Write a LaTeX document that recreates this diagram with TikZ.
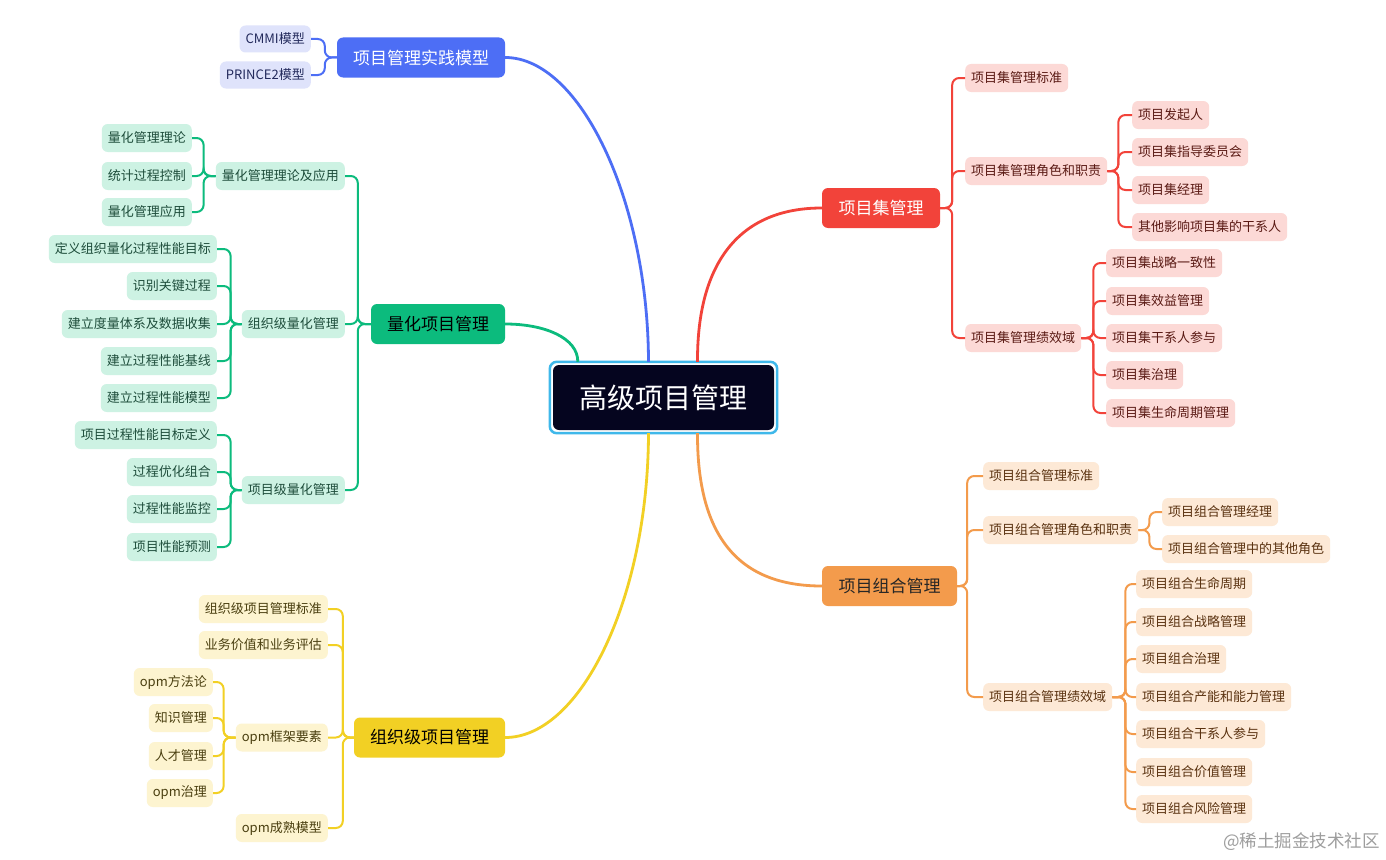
\documentclass[tikz,border=0pt]{standalone}
\usepackage{fontspec}
\setmainfont{Noto Sans CJK SC}
\usetikzlibrary{calc}
\definecolor{cdark}{HTML}{05051F}
\definecolor{csky}{HTML}{3FB8EA}
\definecolor{bmain}{HTML}{4D6EF5}
\definecolor{bfill}{HTML}{DFE3FB}
\definecolor{btext}{HTML}{232A5C}
\definecolor{gmain}{HTML}{0CBB7D}
\definecolor{gfill}{HTML}{CDF2E3}
\definecolor{gtext}{HTML}{1E4D3B}
\definecolor{ymain}{HTML}{F2D024}
\definecolor{yfill}{HTML}{FDF4D0}
\definecolor{ytext}{HTML}{4A3F10}
\definecolor{rmain}{HTML}{F2433A}
\definecolor{rfill}{HTML}{FCD9D6}
\definecolor{rtext}{HTML}{5A1A14}
\definecolor{omain}{HTML}{F39B4C}
\definecolor{ofill}{HTML}{FDE9D6}
\definecolor{otext}{HTML}{5A3210}
\begin{document}
\begin{tikzpicture}[x=1pt,y=-1pt,
  child/.style={rounded corners=6pt, inner xsep=6pt, inner ysep=0pt, minimum height=28pt, font=\fontsize{13}{15}\selectfont},
  mainbox/.style={rounded corners=6pt, inner ysep=0pt, minimum height=40pt, inner xsep=16pt, font=\fontsize{17}{20}\selectfont},
  bc/.style={child, fill=bfill, text=btext, minimum height=27pt},
  gc/.style={child, fill=gfill, text=gtext},
  yc/.style={child, fill=yfill, text=ytext},
  rc/.style={child, fill=rfill, text=rtext},
  oc/.style={child, fill=ofill, text=otext},
  bl/.style={draw=bmain, line width=2pt, rounded corners=7pt},
  gl/.style={draw=gmain, line width=2pt, rounded corners=7pt},
  yl/.style={draw=ymain, line width=2pt, rounded corners=7pt},
  rl/.style={draw=rmain, line width=2pt, rounded corners=7pt},
  ol/.style={draw=omain, line width=2pt, rounded corners=7pt},
  curve/.style={line width=2.8pt}
]
\useasboundingbox (0,0) rectangle (1386,859);
\fill[white] (0,0) rectangle (1386,859);

% central
\node[fill=cdark, text=white, rounded corners=6pt, minimum width=221pt, minimum height=65pt, inner sep=0pt, font=\fontsize{28}{32}\selectfont] (c) at (663.5,397.5) {高级项目管理};
\draw[csky, line width=2.5pt, rounded corners=7pt] ($(c.north west)+(-3,-3)$) rectangle ($(c.south east)+(3,3)$);

% main branches
\node[mainbox, fill=bmain, text=white, minimum width=168pt] (pm) at (421,57.5) {项目管理实践模型};
\node[mainbox, fill=gmain, text=black, minimum width=134pt] (qm) at (438,324) {量化项目管理};
\node[mainbox, fill=ymain, text=black, minimum width=151pt] (om) at (429.5,737.5) {组织级项目管理};
\node[mainbox, fill=rmain, text=white, minimum width=118pt] (jm) at (881,208) {项目集管理};
\node[mainbox, fill=omain, text=black!85, minimum width=135pt] (zm) at (889.5,586) {项目组合管理};

\draw[bmain, curve] ($(c.north)+(-15,-3)$) .. controls (648,200) and (580,57.5) .. (pm.east);
\draw[gmain, curve] ($(c.north west)+(25,-3)$) .. controls (578,338) and (545,324) .. (qm.east);
\draw[ymain, curve] ($(c.south)+(-15,3)$) .. controls (648,600) and (580,737.5) .. (om.east);
\draw[rmain, curve] ($(c.north)+(34,-3)$) .. controls (697,262) and (740,208) .. (jm.west);
\draw[omain, curve] ($(c.south)+(34,3)$) .. controls (697,538) and (740,586) .. (zm.west);

% blue children
\node[bc, anchor=east] (p1) at (311,39) {CMMI模型};
\node[bc, anchor=east] (p2) at (311,75) {PRINCE2模型};
\foreach \n in {p1,p2} \draw[bl] (pm.west) -- ++(-12,0) |- (\n.east);

% green
\node[gc, anchor=east] (q1) at (345,176) {量化管理理论及应用};
\node[gc, anchor=east] (q2) at (345,324) {组织级量化管理};
\node[gc, anchor=east] (q3) at (345,490) {项目级量化管理};
\foreach \n in {q1,q2,q3} \draw[gl] (qm.west) -- ++(-13,0) |- (\n.east);

\node[gc, anchor=east] (q11) at (192,138) {量化管理理论};
\node[gc, anchor=east] (q12) at (192,176) {统计过程控制};
\node[gc, anchor=east] (q13) at (192,212) {量化管理应用};
\foreach \n in {q11,q12,q13} \draw[gl] (q1.west) -- ++(-12,0) |- (\n.east);

\node[gc, anchor=east] (q21) at (217,249) {定义组织量化过程性能目标};
\node[gc, anchor=east] (q22) at (217,286) {识别关键过程};
\node[gc, anchor=east] (q23) at (217,324) {建立度量体系及数据收集};
\node[gc, anchor=east] (q24) at (217,361) {建立过程性能基线};
\node[gc, anchor=east] (q25) at (217,398) {建立过程性能模型};
\foreach \n in {q21,q22,q23,q24,q25} \draw[gl] (q2.west) -- ++(-11,0) |- (\n.east);

\node[gc, anchor=east] (q31) at (217,435) {项目过程性能目标定义};
\node[gc, anchor=east] (q32) at (217,472) {过程优化组合};
\node[gc, anchor=east] (q33) at (217,509) {过程性能监控};
\node[gc, anchor=east] (q34) at (217,547) {项目性能预测};
\foreach \n in {q31,q32,q33,q34} \draw[gl] (q3.west) -- ++(-11,0) |- (\n.east);

% yellow
\node[yc, anchor=east] (o1) at (328,609) {组织级项目管理标准};
\node[yc, anchor=east] (o2) at (328,645) {业务价值和业务评估};
\node[yc, anchor=east] (o3) at (328,737.5) {opm框架要素};
\node[yc, anchor=east] (o4) at (328,828) {opm成熟模型};
\foreach \n in {o1,o2,o3,o4} \draw[yl] (om.west) -- ++(-11,0) |- (\n.east);

\node[yc, anchor=east] (o31) at (213,682) {opm方法论};
\node[yc, anchor=east] (o32) at (213,718) {知识管理};
\node[yc, anchor=east] (o33) at (213,756) {人才管理};
\node[yc, anchor=east] (o34) at (213,793) {opm治理};
\foreach \n in {o31,o32,o33,o34} \draw[yl] (o3.west) -- ++(-12,0) |- (\n.east);

% red
\node[rc, anchor=west] (j1) at (965,78) {项目集管理标准};
\node[rc, anchor=west] (j2) at (965,171) {项目集管理角色和职责};
\node[rc, anchor=west] (j3) at (965,338) {项目集管理绩效域};
\foreach \n in {j1,j2,j3} \draw[rl] (jm.east) -- ++(12,0) |- (\n.west);

\node[rc, anchor=west] (j21) at (1132,115) {项目发起人};
\node[rc, anchor=west] (j22) at (1132,152) {项目集指导委员会};
\node[rc, anchor=west] (j23) at (1132,190) {项目集经理};
\node[rc, anchor=west] (j24) at (1132,227) {其他影响项目集的干系人};
\foreach \n in {j21,j22,j23,j24} \draw[rl] (j2.east) -- ++(11,0) |- (\n.west);

\node[rc, anchor=west] (j31) at (1106,263) {项目集战略一致性};
\node[rc, anchor=west] (j32) at (1106,301) {项目集效益管理};
\node[rc, anchor=west] (j33) at (1106,338) {项目集干系人参与};
\node[rc, anchor=west] (j34) at (1106,375) {项目集治理};
\node[rc, anchor=west] (j35) at (1106,413) {项目集生命周期管理};
\foreach \n in {j31,j32,j33,j34,j35} \draw[rl] (j3.east) -- ++(12,0) |- (\n.west);

% orange
\node[oc, anchor=west] (z1) at (983,476) {项目组合管理标准};
\node[oc, anchor=west] (z2) at (983,530) {项目组合管理角色和职责};
\node[oc, anchor=west] (z3) at (983,697) {项目组合管理绩效域};
\foreach \n in {z1,z2,z3} \draw[ol] (zm.east) -- ++(10,0) |- (\n.west);

\node[oc, anchor=west] (z21) at (1162,512) {项目组合管理经理};
\node[oc, anchor=west] (z22) at (1162,549) {项目组合管理中的其他角色};
\foreach \n in {z21,z22} \draw[ol] (z2.east) -- ++(11,0) |- (\n.west);

\node[oc, anchor=west] (z31) at (1136,584) {项目组合生命周期};
\node[oc, anchor=west] (z32) at (1136,622) {项目组合战略管理};
\node[oc, anchor=west] (z33) at (1136,659) {项目组合治理};
\node[oc, anchor=west] (z34) at (1136,697) {项目组合产能和能力管理};
\node[oc, anchor=west] (z35) at (1136,734) {项目组合干系人参与};
\node[oc, anchor=west] (z36) at (1136,772) {项目组合价值管理};
\node[oc, anchor=west] (z37) at (1136,809) {项目组合风险管理};
\foreach \n in {z31,z32,z33,z34,z35,z36,z37} \draw[ol] (z3.east) -- ++(13,0) |- (\n.west);

% watermark
\node[anchor=east, text=black!38, inner sep=0pt, font=\fontsize{17.5}{20}\selectfont] (wm) at (1380,842) {@稀土掘金技术社区};
\end{tikzpicture}
\end{document}
